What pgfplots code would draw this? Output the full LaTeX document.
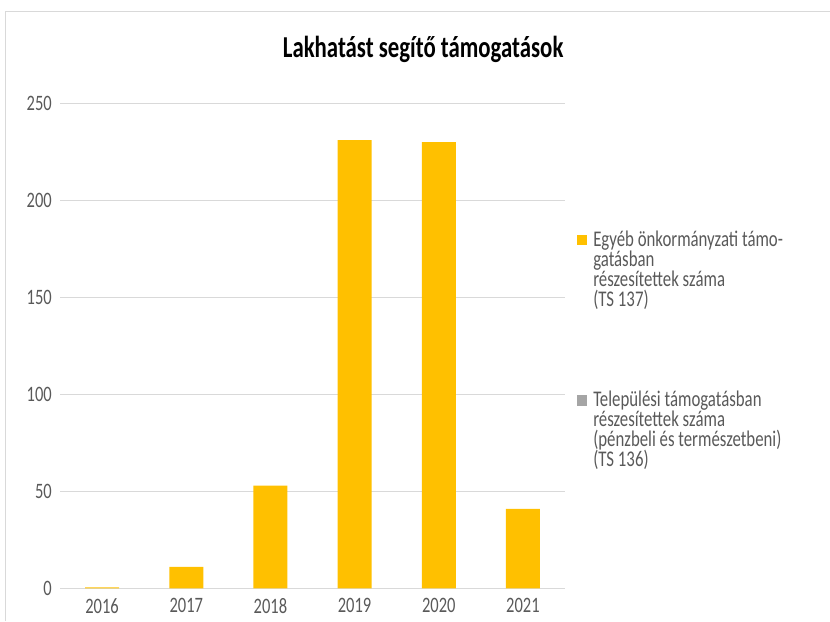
\documentclass[border=0pt]{standalone}
\usepackage{pgfplots}
\pgfplotsset{compat=1.18}
\usepackage{fontspec}
\setmainfont{Carlito}[FakeStretch=0.75]
\definecolor{barY}{HTML}{FFC000}
\definecolor{barG}{HTML}{A5A5A5}
\definecolor{txt}{HTML}{595959}
\definecolor{gridc}{HTML}{D9D9D9}

\begin{document}
\begin{tikzpicture}
% canvas 830x621 px, 1px = 0.75pt
\path[use as bounding box] (0pt,0pt) rectangle (622.5pt,465.75pt);
\draw[gridc, line width=0.75pt] (3.75pt,0pt) -- (3.75pt,456.75pt) -- (622.5pt,456.75pt);
\begin{axis}[
  at={(45pt,24.5pt)}, anchor=south west,
  scale only axis, width=378.75pt, height=363.75pt,
  xmin=-0.5, xmax=5.5, ymin=0, ymax=250,
  xtick={0,1,2,3,4,5},
  xticklabels={2016,2017,2018,2019,2020,2021},
  ytick={0,50,100,150,200,250},
  axis x line*=bottom, axis y line*=left,
  x axis line style={gridc, line width=1pt, -},
  y axis line style={draw=none},
  major tick length=0pt,
  ymajorgrids, grid style={gridc, line width=1pt},
  ticklabel style={font=\fontsize{16.5}{18}\selectfont, text=txt},
  /pgf/number format/assume math mode=true,
  yticklabel style={inner sep=0pt, xshift=-6pt},
  xticklabel style={inner sep=0pt, yshift=-7.5pt},
  title={Lakhatást segítő támogatások},
  title style={font=\bfseries\fontsize{22.8}{26}\selectfont, at={(rel axis cs:0.719,1.0955)}, anchor=center},
  legend image code/.code={\fill[#1] (0pt,46pt) rectangle (7.5pt,54pt);},
  legend style={draw=none, fill=none, inner sep=0pt, at={(rel axis cs:1,0.737)}, anchor=north west,
    xshift=9pt, font=\fontsize{16.8}{15}\selectfont, text=txt,
    nodes={inner sep=0pt, anchor=base west, align=left},
    column sep=4.5pt, row sep=62pt},
]
\addplot[ybar, bar width=25.5pt, fill=barY, draw=none] coordinates {
  (0,0.5) (1,11) (2,53) (3,231) (4,230) (5,41)};
\addlegendentry{Egyéb önkormányzati támo-\\gatásban\\részesítettek száma\\(TS 137)}
\addlegendimage{fill=barG, draw=none}
\addlegendentry{Települési támogatásban\\részesítettek száma\\(pénzbeli és természetbeni)\\(TS 136)}
\end{axis}
\end{tikzpicture}
\end{document}
